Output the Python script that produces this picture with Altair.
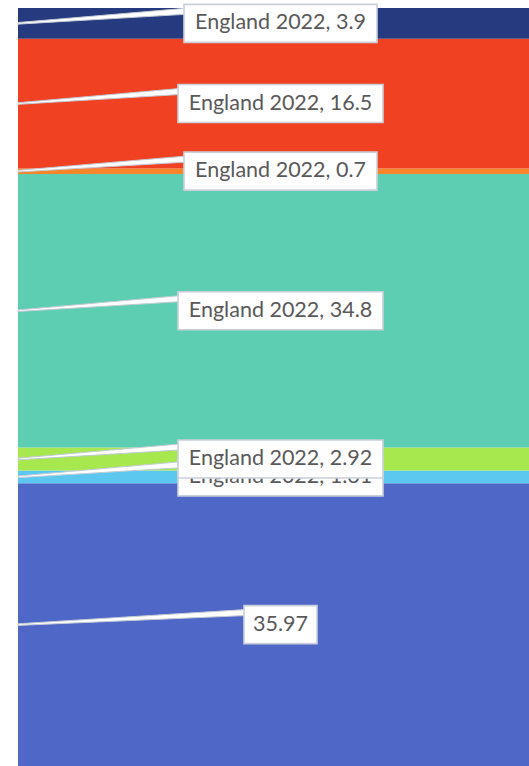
import altair as alt
import pandas as pd
import numpy as np

# ---- data (bottom segment first) ----
categories = ["Series 1", "Series 2", "Series 3", "Series 4", "Series 5", "Series 6", "Series 7"]
values = [35.97, 1.61, 2.92, 34.8, 0.7, 16.5, 3.9]
labels = ["35.97", "England 2022, 1.61", "England 2022, 2.92", "England 2022, 34.8",
          "England 2022, 0.7", "England 2022, 16.5", "England 2022, 3.9"]
colors = ["#4F67C7", "#5CC8F0", "#A6E84E", "#5DCEB1", "#F7852A", "#F04123", "#263A80"]

# ---- styles ----
PLOT_W, PLOT_H = 511, 758
BOX_W = [73, 205, 205, 205, 193, 205, 193]
BOX_H = 38
LABEL_CX = 262.5
WEDGE_TOP, WEDGE_BOT, TIP = 15, 9, 0.8   # pixels

total = float(np.sum(values))
K = PLOT_H / total          # pixels per unit
ydom = alt.Scale(domain=[0, total], nice=False, zero=True)

df = pd.DataFrame({"cat": categories, "value": values, "idx": range(len(values))})
mids = np.cumsum(values) - np.array(values) / 2

lab = pd.DataFrame({
    "idx": range(len(values)),
    "label": labels,
    "mid": mids,
    "xl": [LABEL_CX - w / 2 for w in BOX_W],
    "xr": [LABEL_CX + w / 2 for w in BOX_W],
    "yb": mids - (BOX_H / 2) / K,
    "yt": mids + (BOX_H / 2) / K,
})

wedge_rows = []
for i, m in enumerate(mids):
    wedge_rows.append({"idx": i, "xp": 0.0, "y": m + TIP / K, "y2": m - TIP / K})
    wedge_rows.append({"idx": i, "xp": LABEL_CX - BOX_W[i] / 2 + 1,
                       "y": m + WEDGE_TOP / K, "y2": m + WEDGE_BOT / K})
wedge = pd.DataFrame(wedge_rows)

bars = alt.Chart(df).transform_stack(
    stack="value", as_=["v0", "v1"], groupby=[], sort=[alt.SortField("idx", order="ascending")]
).mark_rect().encode(
    x=alt.value(0),
    x2=alt.value("width"),
    y=alt.Y("v0:Q", scale=ydom, axis=None),
    y2="v1:Q",
    color=alt.Color("cat:N", scale=alt.Scale(domain=categories, range=colors), legend=None),
)

layers = [bars]
for i in range(len(values)):
    w = alt.Chart(wedge).transform_filter(alt.datum.idx == i).mark_area(
        fill="white", stroke="#C3CAD4", strokeWidth=1
    ).encode(
        x=alt.X("xp:Q", scale=None),
        y=alt.Y("y:Q", scale=ydom, stack=None, axis=None),
        y2="y2:Q",
    )
    box = alt.Chart(lab).transform_filter(alt.datum.idx == i).mark_rect(
        fill="white", stroke="#C9D0DA", strokeWidth=1.6
    ).encode(
        x=alt.X("xl:Q", scale=None),
        x2="xr:Q",
        y=alt.Y("yb:Q", scale=ydom, axis=None),
        y2="yt:Q",
    )
    txt = alt.Chart(lab).transform_filter(alt.datum.idx == i).mark_text(
        font="Lato", fontSize=21.5, color="#595959", align="center", baseline="middle"
    ).encode(
        x=alt.value(LABEL_CX),
        y=alt.Y("mid:Q", scale=ydom, axis=None),
        text="label:N",
    )
    layers += [w, box, txt]

chart = alt.layer(*layers).properties(
    width=PLOT_W, height=PLOT_H,
    padding={"left": 18, "top": 8, "right": 0, "bottom": 0},
    autosize=alt.AutoSizeParams(type="none"),
).configure_view(stroke=None)

chart.save("out.html", embed_options={"renderer": "svg", "actions": False})
